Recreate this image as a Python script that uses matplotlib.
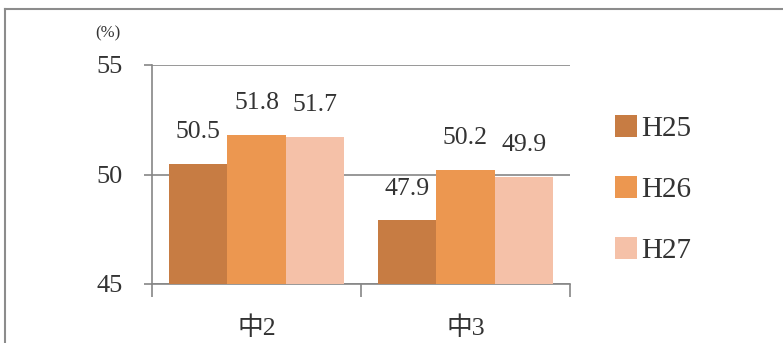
import numpy as np
import matplotlib.pyplot as plt
from matplotlib.lines import Line2D

plt.rcParams['font.family'] = ['Liberation Serif', 'Noto Sans CJK JP']

categories = ['中2', '中3']
series = ['H25', 'H26', 'H27']
values = [[50.5, 47.9],
          [51.8, 50.2],
          [51.7, 49.9]]
colors = ['#C77C43', '#EC9750', '#F5C1A8']
yticks = [45, 50, 55]

fig = plt.figure(figsize=(7.83, 3.43), dpi=100)
ax = fig.add_axes([152/783, 1-284/343, (570-152)/783, (284-65)/343])

x = np.arange(len(categories))
w = 0.28
for i, (name, vals) in enumerate(zip(series, values)):
    bars = ax.bar(x + (i-1)*w, vals, w, color=colors[i], label=name, zorder=3)
    for b, v in zip(bars, vals):
        ax.annotate(f'{v:.1f}', (b.get_x() + b.get_width()/2, v),
                    xytext=(0, 15), textcoords='offset points',
                    ha='center', va='bottom', fontsize=18.5, color='#333333')

ax.set_xlim(-0.5, 1.5)
ax.set_ylim(45, 55)
ax.set_yticks(yticks)
ax.set_xticks([-0.5, 0.5, 1.5], minor=False)
ax.set_xticklabels([])
ax.set_xticks(x, minor=True)
ax.set_xticklabels(categories, minor=True, fontsize=18.5, color='#333333')
ax.tick_params(axis='x', which='major', length=9, color='#868686', width=1.2)
ax.tick_params(axis='x', which='minor', length=0, pad=23)
ax.tick_params(axis='y', length=6, color='#868686', width=1.2, labelsize=19,
               labelcolor='#333333', pad=15)
ax.grid(axis='y', color='#868686', lw=1.2, zorder=0)
for s in ['top', 'right']:
    ax.spines[s].set_visible(False)
for s in ['left', 'bottom']:
    ax.spines[s].set_color('#868686')
    ax.spines[s].set_linewidth(1.2)

fig.text(95/783, 1-33/343, '(%)', fontsize=12, color='#333333', va='center')

ax.legend(loc='upper left', bbox_to_anchor=(589/783, 1-89/343),
          bbox_transform=fig.transFigure, frameon=False, fontsize=21,
          handlelength=0.75, handleheight=0.75, handletextpad=0.15,
          labelspacing=1.17, labelcolor='#333333')

fig.add_artist(Line2D([5/783, 1], [1-9/343, 1-9/343], color='#8c8c8c', lw=1.5))
fig.add_artist(Line2D([5/783, 5/783], [0, 1-9/343], color='#8c8c8c', lw=1.5))

fig.savefig('out.png', dpi=100)
